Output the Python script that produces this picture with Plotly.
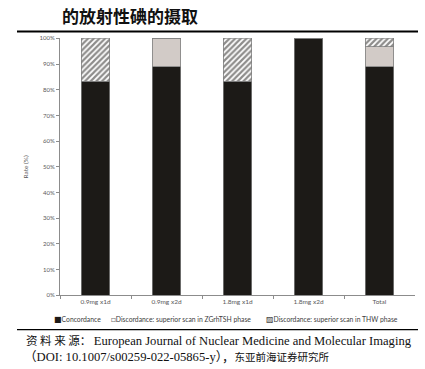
import plotly.graph_objects as go

categories = ["0.9mg x1d", "0.9mg x2d", "1.8mg x1d", "1.8mg x2d", "Total"]
concordance = [83.3, 88.9, 83.3, 100.0, 88.9]
zgrhtsh = [0.0, 11.1, 0.0, 0.0, 7.9]
thw = [16.7, 0.0, 16.7, 0.0, 3.2]
series_names = ["Concordance", "Discordance: superior scan in ZGrhTSH phase",
                "Discordance: superior scan in THW phase"]
legend_marks = ["■", "□", "▨"]
y_ticks = [0, 10, 20, 30, 40, 50, 60, 70, 80, 90, 100]
title_text = "的放射性碘的摄取"
source_cjk_1 = "资 料 来 源： "
source_latin_1 = "European Journal of Nuclear Medicine and Molecular Imaging"
source_latin_2 = "（DOI: 10.1007/s00259-022-05865-y），"
source_cjk_2 = "东亚前海证券研究所"

W, H = 425, 369
DARK = "#1c1a17"
GREY = "#d2cbc7"
fig = go.Figure()
fig.add_trace(go.Bar(x=categories, y=concordance, name=series_names[0],
                     marker=dict(color=DARK, line=dict(color="#7f7f7f", width=0.8))))
fig.add_trace(go.Bar(x=categories, y=zgrhtsh, name=series_names[1],
                     marker=dict(color=GREY, line=dict(color="#7f7f7f", width=0.8))))
fig.add_trace(go.Bar(x=categories, y=thw, name=series_names[2],
                     marker=dict(color="white", line=dict(color="#7f7f7f", width=0.8),
                                 pattern=dict(shape="/", fgcolor=DARK, bgcolor="white",
                                              size=4, solidity=0.55))))

axis_col = "#8c8c8c"
small_font = "Lato, Open Sans, DejaVu Sans, sans-serif"
fig.update_layout(
    width=W, height=H, barmode="stack", bargap=0.6,
    margin=dict(l=0, r=0, t=0, b=0),
    paper_bgcolor="white", plot_bgcolor="white", showlegend=False,
    font=dict(family=small_font, color="#595959"),
    xaxis=dict(domain=[60 / W, 415 / W], showline=True, linecolor=axis_col, linewidth=1,
               ticks="outside", tickson="boundaries", ticklen=3, tickcolor=axis_col,
               tickfont=dict(size=6.5, color="#595959")),
    yaxis=dict(domain=[(H - 297) / H, (H - 35) / H], range=[0, 100], showline=True,
               linecolor=axis_col, linewidth=1, ticks="outside", ticklen=3, tickcolor=axis_col,
               tickvals=y_ticks, ticktext=[f"{v}%" for v in y_ticks], showgrid=False,
               tickfont=dict(size=6, color="#595959"), zeroline=False,
               title=dict(text="Rate (%)", font=dict(size=6.5, color="#595959"), standoff=10)),
)

# custom legend
legend_x = [53, 110, 265]
legend_colors = [DARK, "#6f6f6f", "#333333"]
for name, mark, lx, col in zip(series_names, legend_marks, legend_x, legend_colors):
    fig.add_annotation(text=f"<span style='color:{col};font-size:8px'>{mark}</span>{name}",
                       x=lx / W, y=(H - 321) / H, xref="paper", yref="paper",
                       xanchor="left", yanchor="middle", showarrow=False, borderpad=0,
                       font=dict(size=6.8, color="#404040", family=small_font))

# title (heading)
fig.add_annotation(text=f"<b>{title_text}</b>", x=60 / W, y=(H - 12) / H,
                   xref="paper", yref="paper", xanchor="left", yanchor="middle",
                   showarrow=False,
                   font=dict(size=17, color="#111111",
                             family="Noto Sans CJK SC, Noto Sans CJK JP, sans-serif"))
# rules
fig.add_shape(type="line", xref="paper", yref="paper", x0=17 / W, x1=418 / W,
              y0=(H - 28) / H, y1=(H - 28) / H, line=dict(color="black", width=2))
fig.add_shape(type="line", xref="paper", yref="paper", x0=17 / W, x1=418 / W,
              y0=(H - 332) / H, y1=(H - 332) / H, line=dict(color="black", width=1.2))
# source lines
cjk_font = "Noto Sans CJK SC"
fig.add_annotation(
    text=f"<span style='font-size:11.5px;font-family:{cjk_font}'>{source_cjk_1}</span>{source_latin_1}",
    x=25 / W, y=(H - 343) / H, xref="paper", yref="paper", xanchor="left", yanchor="middle",
    showarrow=False, borderpad=0,
    font=dict(size=12.6, color="#111111", family="Liberation Serif, Noto Sans CJK SC, serif"))
fig.add_annotation(
    text=f"{source_latin_2}<span style='font-size:10.5px;font-family:{cjk_font}'>{source_cjk_2}</span>",
    x=23 / W, y=(H - 359) / H, xref="paper", yref="paper", xanchor="left", yanchor="middle",
    showarrow=False, borderpad=0,
    font=dict(size=12.6, color="#111111", family="Liberation Serif, Noto Sans CJK SC, serif"))

fig.write_html("out.html", config={"displayModeBar": False},
               post_script="document.body.style.margin='0';")
